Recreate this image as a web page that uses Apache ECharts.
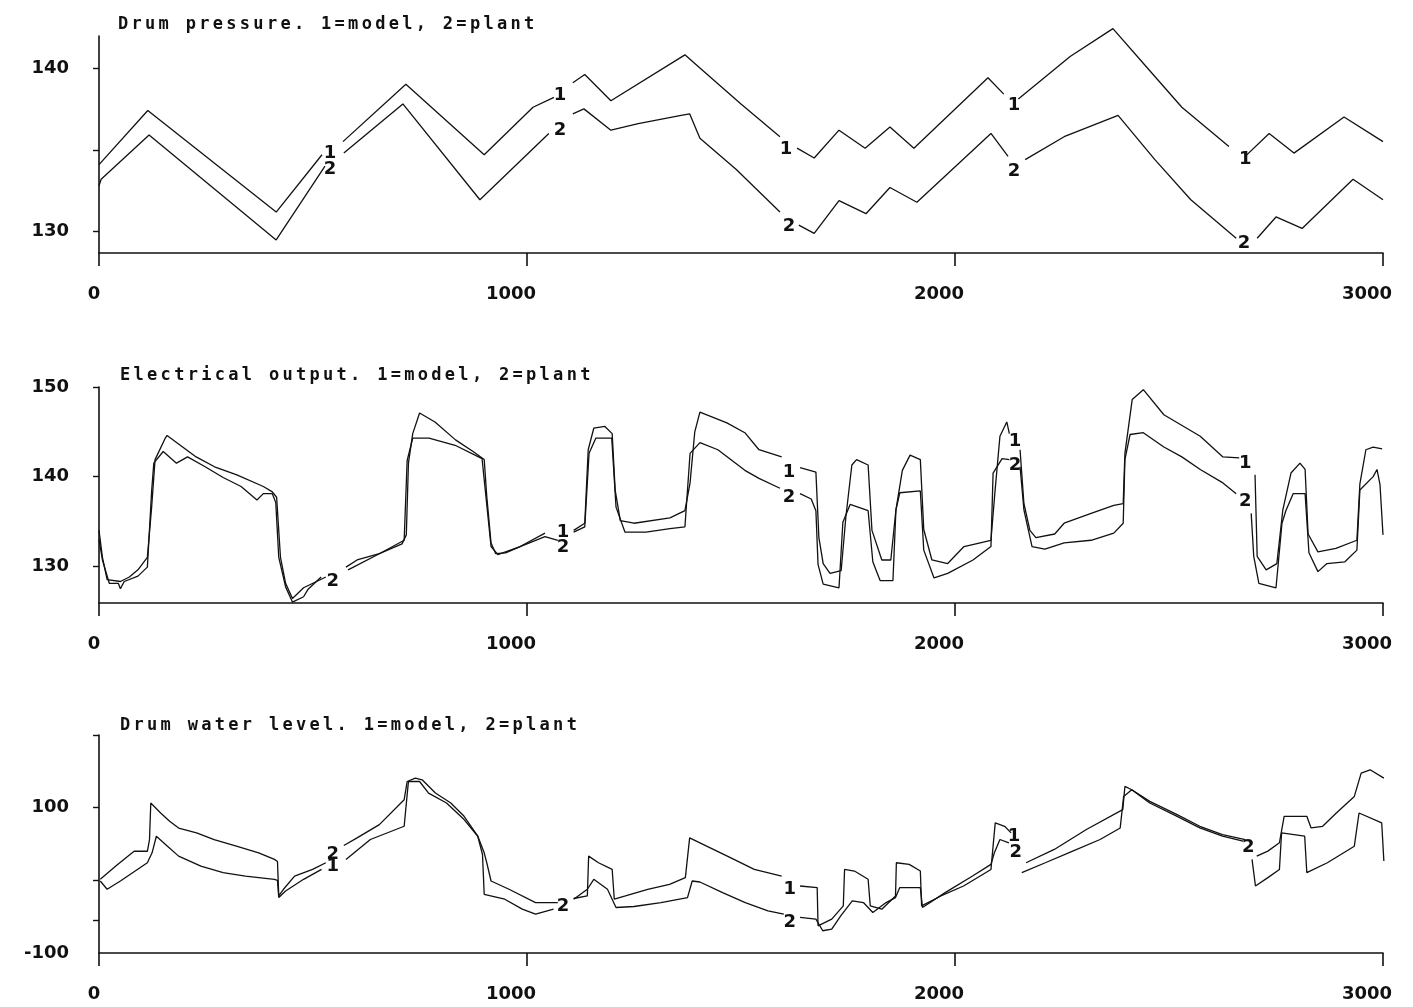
<!DOCTYPE html>
<html>
<head>
<meta charset="utf-8">
<script src="https://cdn.jsdelivr.net/npm/echarts@6/dist/echarts.min.js"></script>
<style>
html,body{margin:0;padding:0;background:#fff;}
#c{width:1413px;height:1007px;}
</style>
</head>
<body>
<div id="c"></div>
<script>
// ---- data ----
const G = null; // gap between line segments (where the curve number is written)

const titles = [
  'Drum pressure. 1=model, 2=plant',
  'Electrical output. 1=model, 2=plant',
  'Drum water level. 1=model, 2=plant'
];

const xTicks = [0, 1000, 2000, 3000];

// Panel 1: drum pressure
const p1YTicks = [130, 135, 140];
const p1YLabels = [130, 140];
const p1Model = [
  [0,134.1],[114,137.4],[414,131.2],[521,134.7], G,
  [570,135.5],[717,139.0],[900,134.7],[1014,137.6],[1063,138.2], G,
  [1107,139.1],[1135,139.6],[1196,138.0],[1369,140.8],[1404,140.0],[1500,137.8],[1591,135.8], G,
  [1631,135.1],[1671,134.5],[1729,136.2],[1790,135.1],[1848,136.4],[1904,135.1],[2077,139.4],[2114,138.4], G,
  [2148,138.1],[2269,140.7],[2369,142.4],[2446,140.1],[2530,137.6],[2640,135.2], G,
  [2678,134.6],[2734,136.0],[2792,134.8],[2909,137.0],[3000,135.5]
];
const p1Plant = [
  [0,132.8],[5,133.2],[117,135.9],[414,129.5],[528,134.0], G,
  [572,134.8],[710,137.8],[890,131.95],[1051,136.0], G,
  [1107,137.2],[1133,137.5],[1196,136.2],[1260,136.6],[1360,137.1],[1380,137.2],[1404,135.7],[1489,133.8],[1591,131.2], G,
  [1635,130.4],[1671,129.9],[1729,131.9],[1792,131.1],[1848,132.7],[1911,131.8],[2084,136.0],[2124,134.6], G,
  [2164,134.4],[2255,135.8],[2381,137.1],[2467,134.4],[2551,131.95],[2657,129.6], G,
  [2706,129.6],[2750,130.9],[2811,130.2],[2930,133.2],[3000,131.95]
];
const p1Labels = [
  [540,134.8,'1'],[540,133.8,'2'],[1077,138.35,'1'],[1077,136.2,'2'],
  [1605,135.0,'1'],[1612,130.3,'2'],[2138,137.7,'1'],[2138,133.7,'2'],
  [2678,134.4,'1'],[2675,129.3,'2']
];

// Panel 2: electrical output
const p2YTicks = [130, 140, 150];
const p2YLabels = [130, 140, 150];
const p2Model = [
  [0,134],[8,131],[19,128.5],[50,128.3],[71,128.8],[91,129.6],[113,131.0],[123,136.6],[131,141.9],[155,144.3],[159,144.6],[227,142.2],[270,141.1],[322,140.2],[384,138.9],[405,138.3],[415,137.7],[424,131.0],[436,128.1],[452,126.4],[478,127.6],[530,128.8], G,
  [577,129.9],[603,130.7],[655,131.4],[708,132.5],[718,133.5],[723,141.5],[733,144.8],[749,147.1],[785,146.1],[833,144.1],[874,142.8],[900,141.9],[906,137.8],[916,132.6],[927,131.4],[950,131.5],[984,132.2],[1042,133.7], G,
  [1109,134.0],[1135,134.8],[1143,143.0],[1156,145.4],[1182,145.6],[1199,144.8],[1206,138.5],[1218,135.1],[1250,134.8],[1334,135.4],[1369,136.2],[1381,139.3],[1392,145.0],[1404,147.2],[1467,146.0],[1509,144.9],[1542,143.0],[1595,142.2], G,
  [1638,141.0],[1675,140.5],[1682,133.2],[1692,130.3],[1708,129.2],[1734,129.5],[1745,135.5],[1759,141.3],[1770,141.9],[1797,141.3],[1806,134.0],[1829,130.7],[1850,130.7],[1862,136.3],[1877,140.7],[1895,142.4],[1919,141.9],[1927,134.1],[1946,130.7],[1983,130.3],[2021,132.2],[2084,132.9],[2093,138.1],[2105,144.5],[2121,146.1],[2127,144.8], G,
  [2152,143.0],[2161,137.0],[2175,134.0],[2189,133.2],[2233,133.6],[2255,134.8],[2318,135.9],[2371,136.8],[2393,137.0],[2397,142.6],[2414,148.6],[2440,149.7],[2488,146.9],[2573,144.5],[2626,142.2],[2664,142.1], G,
  [2701,140.2],[2706,131.1],[2727,129.6],[2752,130.3],[2766,136.3],[2785,140.4],[2806,141.5],[2818,140.8],[2825,133.6],[2848,131.6],[2890,132.0],[2939,132.9],[2946,139.2],[2960,143.0],[2977,143.3],[2998,143.1]
];
const p2Plant = [
  [0,133],[8,130.7],[24,128.1],[45,128.1],[50,127.5],[59,128.3],[91,128.9],[113,129.9],[123,138.4],[128,141.5],[150,142.8],[181,141.5],[207,142.2],[248,141.1],[290,139.9],[332,138.9],[369,137.4],[384,138.1],[405,138.1],[413,137.1],[420,131.0],[436,127.7],[452,126.0],[478,126.6],[488,127.4],[519,128.8], G,
  [582,129.6],[655,131.4],[713,132.9],[720,141.8],[733,144.3],[771,144.3],[832,143.5],[895,142.0],[904,137.8],[916,132.2],[932,131.3],[984,132.2],[1042,133.3],[1072,132.9], G,
  [1109,133.8],[1135,134.4],[1145,142.6],[1161,144.3],[1198,144.3],[1208,136.6],[1229,133.8],[1278,133.8],[1334,134.2],[1369,134.4],[1381,142.6],[1404,143.8],[1446,143.0],[1509,140.7],[1542,139.8],[1591,138.7], G,
  [1638,138.1],[1664,137.5],[1675,136.2],[1680,130.2],[1692,128.0],[1729,127.6],[1738,134.9],[1755,136.9],[1797,136.2],[1808,130.5],[1825,128.4],[1855,128.4],[1862,136.3],[1871,138.2],[1919,138.4],[1927,131.8],[1951,128.7],[1983,129.2],[2042,130.7],[2084,132.2],[2089,140.4],[2110,142.0],[2127,141.9], G,
  [2152,141.1],[2161,136.3],[2180,132.2],[2210,131.9],[2255,132.6],[2318,132.9],[2371,133.7],[2393,134.8],[2397,141.9],[2409,144.7],[2440,144.9],[2488,143.3],[2530,142.2],[2573,140.8],[2626,139.3],[2657,138.1], G,
  [2692,135.9],[2698,131.1],[2710,128.1],[2750,127.6],[2764,134.8],[2773,136.2],[2790,138.1],[2818,138.1],[2827,131.5],[2848,129.4],[2869,130.3],[2911,130.5],[2939,131.8],[2946,138.5],[2977,140.0],[2986,140.8],[2993,139.1],[3000,133.5]
];
const p2Labels = [
  [546,128.3,'2'],[1084,133.8,'1'],[1084,132.1,'2'],[1612,140.5,'1'],[1612,137.7,'2'],
  [2140,143.9,'1'],[2140,141.3,'2'],[2678,141.5,'1'],[2678,137.2,'2']
];

// Panel 3: drum water level
const p3YTicks = [200, 100, 0, -55];
const p3YLabels = [100, -100];
const p3Model = [
  [3,1.4],[40,20],[82,40],[113,40],[118,56],[121,106.4],[144,92.7],[165,81.3],[186,72],[228,65.3],[269,56],[321,47],[373,37.9],[410,28.8],[417,26],[420,-21.5],[431,-12.3],[457,5.9],[499,15],[530,24.2], G,
  [572,48],[603,58.4],[655,76.7],[713,111],[720,136],[739,140.6],[755,138.4],[786,120.1],[822,106.4],[853,88.1],[885,60.7],[900,37.9],[906,24.2],[916,-0.9],[958,-12.3],[1020,-30.6],[1072,-30.6], G,
  [1109,-25],[1141,-21.5],[1144,33.3],[1167,24.2],[1199,15],[1204,-26],[1230,-21.5],[1282,-12.3],[1333,-5.5],[1370,3.7],[1380,58.4],[1404,51.6],[1468,33.3],[1531,15],[1595,5.9], G,
  [1638,-7.8],[1678,-10],[1680,-62.6],[1712,-53.4],[1739,-35.2],[1742,15],[1765,12.8],[1797,1.4],[1802,-35.2],[1829,-39.7],[1861,-21.5],[1863,24.2],[1893,21.9],[1919,12.8],[1922,-35.2],[1967,-21.5],[2020,-7.8],[2084,15],[2094,79],[2116,74.4],[2131,65.3], G,
  [2166,24.2],[2232,42.5],[2307,69.9],[2392,97.3],[2397,129.2],[2413,124.7],[2455,108.7],[2519,90.4],[2572,74.4],[2625,63],[2678,56], G,
  [2705,33.3],[2731,40.2],[2758,51.6],[2769,88.1],[2822,88.1],[2832,72.1],[2859,74.4],[2891,92.7],[2933,115.5],[2949,147.5],[2970,152.1],[3002,140.6]
];
const p3Plant = [
  [3,-0.9],[19,-12.3],[50,-0.9],[113,24.2],[124,37.9],[134,60.7],[160,47],[186,33.3],[238,19.6],[290,10.5],[342,5.9],[410,1.4],[417,0],[420,-23.7],[436,-14.6],[478,1.4],[520,15], G,
  [577,28.8],[634,56.2],[713,74.4],[720,118],[723,136],[749,136],[770,120],[812,106.4],[853,83.6],[885,60.7],[896,35.6],[900,-19.2],[948,-26],[989,-39.7],[1020,-46.6],[1062,-39.7], G,
  [1109,-26],[1141,-12.3],[1156,1.4],[1188,-12.3],[1208,-37.4],[1250,-36],[1313,-30.6],[1375,-23.7],[1386,-0.9],[1404,-2.3],[1457,-16.9],[1510,-30.6],[1563,-42],[1600,-46.6], G,
  [1638,-51.1],[1675,-53.4],[1691,-69.4],[1712,-67.1],[1733,-48.9],[1760,-28.3],[1786,-30.6],[1808,-44.3],[1839,-30.6],[1861,-23.7],[1871,-10],[1919,-10],[1924,-37.4],[1977,-16.9],[2041,5.9],[2084,21.9],[2092,37.9],[2105,56.2],[2126,51.6], G,
  [2156,10.5],[2211,24.2],[2275,40.2],[2339,56.2],[2386,72.1],[2394,115.5],[2413,124.7],[2455,106.4],[2519,88.1],[2572,72.1],[2625,60.7],[2673,53.9], G,
  [2694,28.8],[2702,-7.8],[2731,3.7],[2758,15],[2763,65.3],[2817,60.7],[2822,10.5],[2870,24.2],[2933,47],[2944,92.7],[2997,79],[3002,26.5]
];
const p3Labels = [
  [546,35.6,'2'],[546,19.2,'1'],[1084,-35.6,'2'],[1614,-12.3,'1'],[1614,-57.5,'2'],
  [2138,60.3,'1'],[2142,38.4,'2'],[2685,45.2,'2']
];

// ---- plotter-style spaced lettering for the titles ----
(function () {
  const P = CanvasRenderingContext2D.prototype;
  const orig = P.fillText;
  P.fillText = function (t, x, y, m) {
    const call = () => (m === undefined ? orig.call(this, t, x, y) : orig.call(this, t, x, y, m));
    if (this.font && this.font.indexOf('DejaVu Sans Mono') >= 0 && 'letterSpacing' in this) {
      const old = this.letterSpacing;
      this.letterSpacing = '3.3px';
      const r = call();
      this.letterSpacing = old;
      return r;
    }
    return call();
  };
})();

// ---- chart ----
const INK = '#111';
const FONT = { fontFamily: 'DejaVu Sans', fontSize: 18, fontWeight: 'bold', color: INK };
const NUMFONT = { fontFamily: 'DejaVu Sans', fontSize: 18, fontWeight: 'bold', color: INK };
const panels = [
  { top: 36,  height: 217, min: 128.7, max: 141.95, ticks: p1YTicks, labels: p1YLabels, model: p1Model, plant: p1Plant, nums: p1Labels, titleTop: 11 },
  { top: 387, height: 216, min: 125.9, max: 150,    ticks: p2YTicks, labels: p2YLabels, model: p2Model, plant: p2Plant, nums: p2Labels, titleTop: 362 },
  { top: 735, height: 218, min: -100,  max: 200,    ticks: p3YTicks, labels: p3YLabels, model: p3Model, plant: p3Plant, nums: p3Labels, titleTop: 712 }
];

const toLine = arr => arr.map(p => (p === null ? ['-', '-'] : p));

const option = {
  animation: false,
  backgroundColor: '#fff',
  title: panels.map((p, i) => ({
    text: titles[i], left: i === 0 ? 113 : 115, top: p.titleTop,
    textStyle: { fontFamily: 'DejaVu Sans Mono', fontSize: 17, fontWeight: 'bold', color: INK }
  })),
  grid: panels.map(p => ({ left: 99, width: 1284, top: p.top, height: p.height })),
  xAxis: panels.map((p, i) => ({
    type: 'value', gridIndex: i, min: 0, max: 3000, interval: 1000,
    axisLine: { onZero: false, lineStyle: { color: INK, width: 1.6 } },
    axisTick: { show: true, length: 13, customValues: xTicks, lineStyle: { color: INK, width: 1.6 } },
    axisLabel: {
      customValues: xTicks, margin: 32, ...FONT,
      formatter: v => (v === 0 ? '{z|' + v + '}' : '{n|' + v + '}'),
      rich: {
        z: { ...FONT, padding: [0, 10, 0, 0] },
        n: { ...FONT, padding: [0, 32, 0, 0] }
      }
    },
    splitLine: { show: false }
  })),
  yAxis: panels.map((p, i) => ({
    type: 'value', gridIndex: i, min: p.min, max: p.max,
    axisLine: { show: true, onZero: false, lineStyle: { color: INK, width: 1.6 } },
    axisTick: { show: true, length: 6, customValues: p.ticks, lineStyle: { color: INK, width: 1.4 } },
    axisLabel: { customValues: p.labels, margin: 30, padding: [0, 0, 12, 0], formatter: v => String(v), ...FONT },
    splitLine: { show: false }
  })),
  series: []
};

panels.forEach((p, i) => {
  [p.model, p.plant].forEach((d, k) => {
    option.series.push({
      type: 'line', xAxisIndex: i, yAxisIndex: i, name: k === 0 ? 'model' : 'plant',
      data: toLine(d), showSymbol: false, connectNulls: false, clip: false,
      lineStyle: { color: INK, width: 1.3 }, silent: true
    });
  });
  option.series.push({
    type: 'scatter', xAxisIndex: i, yAxisIndex: i, symbolSize: 1, clip: false,
    itemStyle: { color: 'rgba(0,0,0,0)', opacity: 1 }, silent: true,
    data: p.nums.map(n => ({ value: [n[0], n[1]], name: n[2] })),
    label: { show: true, position: 'inside', formatter: '{b}', opacity: 1, textBorderWidth: 0, ...NUMFONT }
  });
});

const chart = echarts.init(document.getElementById('c'), null, { renderer: 'canvas' });
chart.setOption(option);
</script>
</body>
</html>
